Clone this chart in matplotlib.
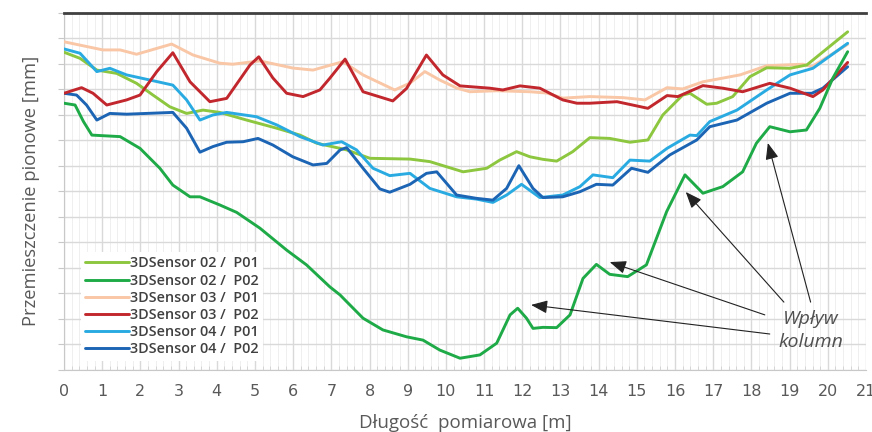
import matplotlib
matplotlib.use("Agg")
import matplotlib.pyplot as plt
from matplotlib.ticker import MultipleLocator

# ---- data: distance [m] and vertical displacement (grid units, 0 at top) ----
s02p01_x = [0.0, 0.42, 0.86, 1.38, 1.90, 2.33, 2.77, 3.21, 3.64, 4.08, 4.78, 5.57, 6.18, 6.62, 7.23, 7.40,
            8.01, 9.06, 9.58, 10.45, 11.07, 11.41, 11.85, 12.20, 12.54, 12.90, 13.32, 13.77, 14.29, 14.82,
            15.29, 15.68, 16.20, 16.39, 16.83, 17.09, 17.51, 17.96, 18.40, 19.01, 19.45, 20.52]
s02p01_y = [-1.55, -1.79, -2.25, -2.38, -2.77, -3.23, -3.69, -3.95, -3.82, -3.91, -4.21, -4.53, -4.80, -5.12,
            -5.32, -5.38, -5.71, -5.74, -5.84, -6.24, -6.10, -5.78, -5.45, -5.65, -5.75, -5.82, -5.45, -4.90,
            -4.93, -5.08, -4.99, -4.01, -3.23, -3.16, -3.59, -3.55, -3.29, -2.51, -2.16, -2.18, -2.05, -0.75]

s02p02_x = [0.0, 0.29, 0.51, 0.73, 1.47, 1.99, 2.51, 2.85, 3.30, 3.56, 4.08, 4.52, 5.13, 5.83, 6.35, 6.96,
            7.23, 7.40, 7.83, 8.35, 8.97, 9.40, 9.84, 10.37, 10.89, 11.33, 11.68, 11.88, 12.11, 12.28, 12.54,
            12.90, 13.25, 13.59, 13.94, 14.29, 14.76, 15.25, 15.78, 16.26, 16.73, 17.25, 17.77, 18.13, 18.48,
            19.01, 19.44, 19.79, 20.13, 20.52]
s02p02_y = [-3.55, -3.62, -4.27, -4.80, -4.86, -5.32, -6.10, -6.76, -7.22, -7.22, -7.54, -7.83, -8.45, -9.31,
            -9.89, -10.75, -11.07, -11.33, -11.98, -12.44, -12.71, -12.84, -13.23, -13.55, -13.42, -12.96,
            -11.85, -11.59, -11.98, -12.38, -12.34, -12.35, -11.85, -10.42, -9.87, -10.26, -10.35, -9.89,
            -7.80, -6.36, -7.08, -6.82, -6.24, -5.12, -4.47, -4.67, -4.60, -3.75, -2.57, -1.53]

s03p01_x = [0.0, 1.02, 1.47, 1.90, 2.82, 3.38, 4.08, 4.42, 5.13, 5.99, 6.52, 7.30, 7.83, 8.66, 9.06, 9.45,
            9.84, 10.29, 10.63, 11.34, 12.20, 12.64, 13.06, 13.77, 14.63, 15.21, 15.79, 16.20, 16.73, 17.70,
            18.40, 19.35, 19.58, 20.52]
s03p01_y = [-1.14, -1.46, -1.46, -1.63, -1.23, -1.66, -1.98, -2.02, -1.89, -2.17, -2.25, -1.92, -2.44, -3.03,
            -2.76, -2.31, -2.64, -2.96, -3.10, -3.06, -3.10, -3.15, -3.35, -3.29, -3.33, -3.42, -2.94, -2.99,
            -2.71, -2.44, -2.08, -2.02, -2.12, -1.24]

s03p02_x = [0.0, 0.46, 0.76, 1.12, 1.64, 1.99, 2.43, 2.85, 3.30, 3.82, 4.26, 4.87, 5.10, 5.47, 5.83, 6.26,
            6.70, 6.96, 7.36, 7.83, 8.61, 8.97, 9.49, 9.92, 10.37, 11.15, 11.49, 11.94, 12.46, 13.06, 13.43,
            13.77, 14.48, 15.29, 15.79, 16.07, 16.73, 17.25, 17.77, 18.48, 19.01, 19.61, 19.87, 20.52]
s03p02_y = [-3.16, -2.94, -3.16, -3.62, -3.42, -3.23, -2.31, -1.57, -2.71, -3.49, -3.36, -2.05, -1.73, -2.56,
            -3.16, -3.29, -3.03, -2.57, -1.82, -3.10, -3.46, -2.97, -1.66, -2.44, -2.87, -2.96, -3.03, -2.87,
            -2.96, -3.42, -3.55, -3.55, -3.49, -3.75, -3.25, -3.29, -2.86, -2.96, -3.10, -2.77, -2.96, -3.29,
            -3.03, -1.95]

s04p01_x = [0.0, 0.42, 0.86, 1.20, 1.64, 2.25, 2.85, 3.21, 3.56, 3.90, 4.26, 5.04, 5.57, 6.18, 6.78, 7.27,
            7.66, 8.09, 8.53, 9.06, 9.58, 10.28, 10.80, 11.23, 11.59, 11.98, 12.46, 13.06, 13.51, 13.85,
            14.37, 14.82, 15.34, 15.79, 16.39, 16.57, 16.91, 17.62, 18.40, 19.01, 19.61, 20.52]
s04p01_y = [-1.42, -1.59, -2.31, -2.18, -2.44, -2.64, -2.84, -3.42, -4.21, -4.01, -3.91, -4.08, -4.40, -4.86,
            -5.19, -5.06, -5.38, -6.10, -6.39, -6.30, -6.89, -7.22, -7.31, -7.44, -7.15, -6.73, -7.25, -7.15,
            -6.82, -6.36, -6.47, -5.78, -5.82, -5.32, -4.80, -4.82, -4.27, -3.82, -3.03, -2.44, -2.18, -1.20]

s04p02_x = [0.0, 0.33, 0.59, 0.86, 1.20, 1.64, 2.16, 2.85, 3.21, 3.56, 3.90, 4.26, 4.69, 5.08, 5.47, 5.99,
            6.52, 6.88, 7.23, 7.40, 7.83, 8.27, 8.53, 9.06, 9.49, 9.76, 10.28, 10.80, 11.23, 11.59, 11.91,
            12.28, 12.54, 13.06, 13.51, 13.94, 14.37, 14.86, 15.29, 15.86, 16.57, 16.91, 17.62, 18.40, 19.01,
            19.58, 19.87, 20.52]
s04p02_y = [-3.16, -3.23, -3.62, -4.21, -3.95, -3.98, -3.95, -3.91, -4.53, -5.47, -5.25, -5.08, -5.06, -4.93,
            -5.19, -5.65, -5.97, -5.91, -5.38, -5.29, -6.10, -6.91, -7.04, -6.73, -6.30, -6.24, -7.15, -7.28,
            -7.35, -6.89, -6.00, -6.89, -7.25, -7.22, -7.02, -6.73, -6.76, -6.10, -6.26, -5.58, -4.99, -4.47,
            -4.21, -3.55, -3.16, -3.16, -2.96, -2.12]

labels = ["3DSensor 02 /  P01", "3DSensor 02 /  P02", "3DSensor 03 /  P01",
          "3DSensor 03 /  P02", "3DSensor 04 /  P01", "3DSensor 04 /  P02"]
colors = ["#8DC63F", "#1FAA48", "#F9C6A6", "#C1272D", "#29ABE2", "#1C64B4"]

# arrow tips (column influence points) and text
arrow_tips_x = [12.23, 14.29, 16.28, 18.43]
arrow_tips_y = [-11.46, -9.78, -7.03, -5.11]
annot_text = "Wpływ\nkolumn"
xticks = list(range(0, 22))

fig = plt.figure(figsize=(8.72, 4.32), dpi=100)
ax = fig.add_axes([64 / 872, (432 - 369.7) / 432, (866 - 64) / 872, (369.7 - 12.7) / 432])

series = [(s02p01_x, s02p01_y), (s02p02_x, s02p02_y), (s03p01_x, s03p01_y),
          (s03p02_x, s03p02_y), (s04p01_x, s04p01_y), (s04p02_x, s04p02_y)]
order = [2, 0, 4, 5, 3, 1]
handles = {}
for i in order:
    x, y = series[i]
    ln, = ax.plot(x, y, color=colors[i], lw=2.1, solid_joinstyle="round",
                  solid_capstyle="round", label=labels[i], zorder=3)
    handles[i] = ln

ax.set_xlim(0, 21)
ax.set_ylim(-14, 0)
ax.set_xticks(xticks)
ax.xaxis.set_minor_locator(MultipleLocator(0.2))
ax.yaxis.set_major_locator(MultipleLocator(1))
ax.grid(which="major", axis="both", color="#d9d9d9", lw=1.0, zorder=0)
ax.grid(which="minor", axis="x", color="#efefef", lw=0.7, zorder=0)
ax.set_axisbelow(True)

ax.spines["right"].set_visible(False)
ax.spines["top"].set_color("#404040")
ax.spines["top"].set_linewidth(2.0)
ax.spines["left"].set_color("#c8c8c8")
ax.spines["bottom"].set_color("#c8c8c8")
ax.tick_params(axis="y", which="major", length=4, color="#c8c8c8", labelleft=False)
ax.tick_params(axis="x", which="major", length=0, pad=10, labelsize=11.5, labelcolor="#595959")
ax.tick_params(axis="x", which="minor", direction="in", length=3, color="#d0d0d0")
for t in ax.get_xticklabels():
    t.set_family(["Liberation Sans Narrow", "DejaVu Sans"])

ax.set_xlabel("Długość  pomiarowa [m]", fontsize=13.5, color="#595959", labelpad=11,
              family=["Open Sans", "DejaVu Sans"])
ax.set_ylabel("Przemieszczenie pionowe [mm]", fontsize=13.2, color="#595959", labelpad=13,
              family=["Open Sans", "DejaVu Sans"])

leg = ax.legend([handles[i] for i in range(6)], labels, loc="lower left",
                bbox_to_anchor=(0.012, 0.005), frameon=True, fancybox=False,
                handlelength=3.0, handletextpad=0.1, labelspacing=0.22, borderpad=0.3,
                prop={"family": ["Open Sans", "DejaVu Sans"], "weight": "semibold", "size": 10.4})
leg.get_frame().set_facecolor("white")
leg.get_frame().set_edgecolor("none")
leg.get_frame().set_alpha(1)
leg.set_zorder(5)
for t in leg.get_texts():
    t.set_color("#404040")

txt_x, txt_y = 19.55, -12.45
ax.text(txt_x, txt_y, annot_text, ha="center", va="center", fontsize=14, style="italic",
        color="#505050", linespacing=1.35, family=["Open Sans", "DejaVu Sans"], zorder=6)
tails = [(18.48, -12.6), (18.35, -11.85), (18.85, -11.35), (19.55, -11.35)]
for (tx, ty), hx, hy in zip(tails, arrow_tips_x, arrow_tips_y):
    ax.annotate("", xy=(hx, hy), xytext=(tx, ty),
                arrowprops=dict(arrowstyle="-|>,head_length=1.0,head_width=0.4",
                                color="#222222", lw=0.8, shrinkA=0, shrinkB=0), zorder=6)

fig.savefig("out.png", dpi=100)
